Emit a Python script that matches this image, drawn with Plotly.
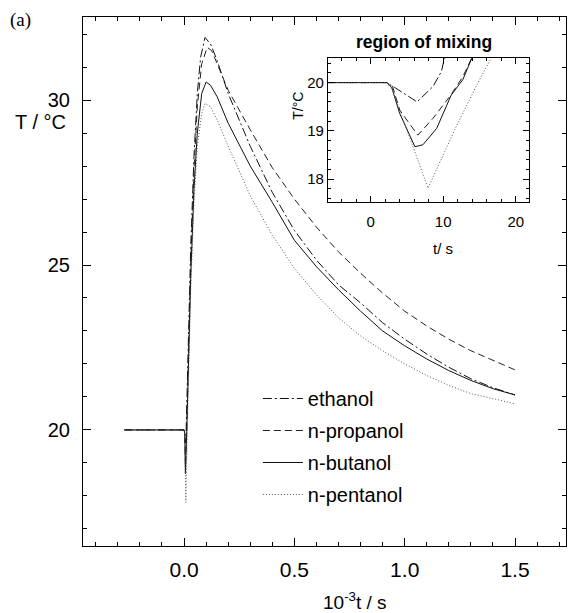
import plotly.graph_objects as go

# ---------------- data (main plot, t in 10^3 s) ----------------
names = ["ethanol", "n-propanol", "n-butanol", "n-pentanol"]

eth_t = [-0.27, 0.0, 0.003, 0.0064, 0.0095, 0.02, 0.03, 0.045, 0.06, 0.075, 0.095, 0.12, 0.15, 0.2, 0.3, 0.4, 0.5, 0.6, 0.7, 0.8, 0.9, 1.0, 1.1, 1.2, 1.3, 1.4, 1.5]
eth_T = [20.0, 20.0, 19.95, 19.6, 20.0, 23.0, 25.5, 28.3, 30.2, 31.3, 31.9, 31.7, 31.2, 30.2, 28.6, 27.2, 26.05, 25.15, 24.4, 23.85, 23.25, 22.75, 22.3, 21.9, 21.55, 21.28, 21.06]

pro_t = [-0.27, 0.0, 0.003, 0.0065, 0.0125, 0.02, 0.03, 0.045, 0.06, 0.08, 0.105, 0.125, 0.15, 0.2, 0.3, 0.4, 0.5, 0.6, 0.7, 0.8, 0.9, 1.0, 1.1, 1.2, 1.3, 1.4, 1.5]
pro_T = [20.0, 20.0, 19.93, 18.9, 20.1, 22.3, 25.0, 27.9, 29.8, 31.1, 31.6, 31.5, 31.1, 30.3, 29.1, 27.95, 27.0, 26.15, 25.4, 24.75, 24.15, 23.6, 23.15, 22.75, 22.4, 22.1, 21.82]

but_t = [-0.27, 0.0, 0.003, 0.0062, 0.0125, 0.02, 0.03, 0.045, 0.06, 0.08, 0.1, 0.12, 0.15, 0.2, 0.3, 0.4, 0.5, 0.6, 0.7, 0.8, 0.9, 1.0, 1.1, 1.2, 1.3, 1.4, 1.5]
but_T = [20.0, 20.0, 19.9, 18.67, 20.05, 22.0, 24.6, 27.3, 29.0, 30.2, 30.55, 30.45, 30.1, 29.3, 28.0, 26.9, 25.75, 24.95, 24.25, 23.6, 23.0, 22.55, 22.15, 21.8, 21.5, 21.25, 21.06]

pen_t = [-0.27, 0.0, 0.003, 0.0079, 0.015, 0.02, 0.03, 0.045, 0.06, 0.08, 0.095, 0.12, 0.15, 0.2, 0.3, 0.4, 0.5, 0.6, 0.7, 0.8, 0.9, 1.0, 1.1, 1.2, 1.3, 1.4, 1.5]
pen_T = [20.0, 20.0, 19.85, 17.8, 20.06, 21.6, 24.2, 26.9, 28.6, 29.6, 29.9, 29.8, 29.4, 28.6, 27.1, 25.9, 24.9, 24.1, 23.4, 22.85, 22.4, 22.0, 21.65, 21.35, 21.1, 20.95, 20.79]

# ---------------- data (inset, t in s) ----------------
eth_in_t = [-6, 2.2, 3.3, 6.4, 8.6, 9.75, 10.1, 10.5]
eth_in_T = [20.0, 20.0, 19.9, 19.6, 19.92, 20.23, 20.46, 20.6]

pro_in_t = [-6, 2.2, 3.0, 4.0, 6.5, 8.6, 10.9, 12.7, 13.9, 14.5]
pro_in_T = [20.0, 20.0, 19.93, 19.43, 18.91, 19.26, 19.71, 20.12, 20.5, 20.65]

but_in_t = [-6, 2.2, 2.9, 4.0, 6.1, 7.2, 9.1, 11.1, 12.7, 13.7, 14.2]
but_in_T = [20.0, 20.0, 19.9, 19.36, 18.67, 18.71, 19.05, 19.74, 20.06, 20.4, 20.6]

pen_in_t = [-6, 2.2, 3.0, 5.5, 7.9, 11.8, 15.0, 16.6, 17.2]
pen_in_T = [20.0, 20.0, 19.85, 18.8, 17.81, 19.09, 20.06, 20.5, 20.65]

main_x = [eth_t, pro_t, but_t, pen_t]
main_y = [eth_T, pro_T, but_T, pen_T]
in_x = [eth_in_t, pro_in_t, but_in_t, pen_in_t]
in_y = [eth_in_T, pro_in_T, but_in_T, pen_in_T]

dashes = ["9px,3px,2px,3px", "7px,4px", "solid", "1px,2px"]
colors = ["#111111", "#222222", "#111111", "#555555"]

FONT = "Liberation Sans, Arial, sans-serif"

fig = go.Figure()
for i, n in enumerate(names):
    fig.add_trace(go.Scatter(x=main_x[i], y=main_y[i], mode="lines", name=n,
                             legendgroup=n,
                             line=dict(color=colors[i], width=1, dash=dashes[i]),
                             xaxis="x", yaxis="y"))
for i, n in enumerate(names):
    fig.add_trace(go.Scatter(x=in_x[i], y=in_y[i], mode="lines", name=n,
                             showlegend=False,
                             line=dict(color=colors[i], width=1, dash=dashes[i]),
                             xaxis="x2", yaxis="y2"))

axis_common = dict(showline=True, linecolor="black", linewidth=1, mirror="allticks",
                   ticks="inside", tickcolor="black", showgrid=False, zeroline=False)

fig.update_layout(
    width=568, height=613,
    margin=dict(l=83, r=2, t=17, b=67),
    paper_bgcolor="white", plot_bgcolor="white",
    font=dict(family=FONT, color="black"),
    xaxis=dict(domain=[0, 1], range=[-0.458, 1.731], tick0=0, dtick=0.5, tickformat=".1f",
               ticklen=8, tickwidth=1, ticklabelstandoff=5,
               tickfont=dict(size=21, family=FONT),
               minor=dict(dtick=0.1, tick0=0, ticklen=4, ticks="inside", tickcolor="black"),
               **axis_common),
    yaxis=dict(domain=[0, 1], range=[16.48, 32.52], tick0=0, dtick=5,
               ticklen=8, tickwidth=1, ticklabelstandoff=8,
               tickfont=dict(size=20, family=FONT),
               minor=dict(dtick=1, tick0=0, ticklen=4, ticks="inside", tickcolor="black"),
               **axis_common),
    xaxis2=dict(domain=[0.507, 0.923], anchor="y2", range=[-5.9, 21.8], tick0=0, dtick=10,
                ticklen=6, ticklabelstandoff=6,
                tickfont=dict(size=15, family=FONT),
                minor=dict(dtick=2, tick0=0, ticklen=3, ticks="inside", tickcolor="black"),
                **axis_common),
    yaxis2=dict(domain=[0.650, 0.9225], anchor="x2", range=[17.52, 20.51], tick0=0, dtick=1,
                ticklen=6, ticklabelstandoff=0,
                tickfont=dict(size=15, family=FONT),
                minor=dict(dtick=0.2, tick0=0, ticklen=3, ticks="inside", tickcolor="black"),
                **axis_common),
    legend=dict(x=0.362, y=0.3157, xanchor="left", yanchor="top",
                bgcolor="rgba(0,0,0,0)", borderwidth=0,
                font=dict(size=20, family=FONT), itemwidth=40,
                tracegroupgap=3, traceorder="grouped"),
    showlegend=True,
)

annots = [
    dict(text="(a)", x=-0.130, y=0.994, font=dict(size=19, family="Liberation Serif, Times New Roman, serif")),
    dict(text="T / °C", x=-0.087, y=0.8015, font=dict(size=20, family=FONT)),
    dict(text="10<sup>-3</sup>t / s", x=0.563, y=-0.104, font=dict(size=19, family=FONT)),
    dict(text="<b>region of mixing</b>", x=0.706, y=0.953, font=dict(size=17.5, family=FONT)),
    dict(text="t/ s", x=0.745, y=0.5633, font=dict(size=15, family=FONT)),
    dict(text="T/°C", x=0.445, y=0.832, textangle=-90, font=dict(size=14, family=FONT)),
]
for a in annots:
    fig.add_annotation(xref="paper", yref="paper", showarrow=False,
                       xanchor="center", yanchor="middle", **a)

fig.write_html("out.html")
